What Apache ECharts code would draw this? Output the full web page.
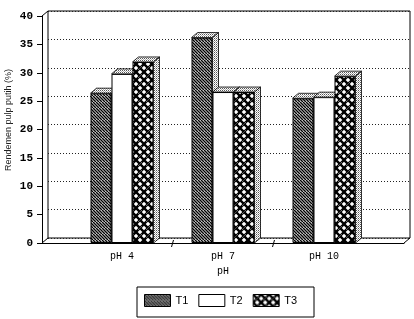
<!DOCTYPE html>
<html>
<head>
<meta charset="utf-8">
<script src="https://cdn.jsdelivr.net/npm/echarts@6/dist/echarts.min.js"></script>
<style>
	html, body { margin: 0; padding: 0; background: #fff; }
	#chart { width: 414px; height: 319px; }
</style>
</head>
<body>
<div id="chart"></div>
<script>
	// data
	var categories = ['pH 4', 'pH 7', 'pH 10'];
	var seriesNames = ['T1', 'T2', 'T3'];
	var t1 = [26.4, 36.2, 25.5];
	var t2 = [29.8, 26.6, 25.7];
	var t3 = [31.9, 26.6, 29.4];
	var yMin = 0, yMax = 40, yStep = 5;

	// 3D look: depth offset of back wall / bar tops (px)
	var DX = 6, DY = 5;
	var BAR_W = 21;

	function tile(w, h, draw) {
		var c = document.createElement('canvas');
		c.width = w; c.height = h;
		var g = c.getContext('2d');
		g.fillStyle = '#fff';
		g.fillRect(0, 0, w, h);
		draw(g, w, h);
		return { image: c, repeat: 'repeat' };
	}

	// T1: diagonal hatch
	var hatch = tile(6, 6, function (g) {
		g.strokeStyle = '#000';
		g.lineWidth = 1.5;
		for (var k = -6; k <= 6; k += 3) {
			g.beginPath(); g.moveTo(k, 0); g.lineTo(k + 6, 6); g.stroke();
		}
	});
	// T3: woven lattice
	var weave = tile(8, 8, function (g, w) {
		g.strokeStyle = '#000';
		g.lineWidth = 2.4;
		for (var k = -w; k <= w; k += w) {
			g.beginPath(); g.moveTo(k, 0); g.lineTo(k + w, w); g.stroke();
			g.beginPath(); g.moveTo(k + w, 0); g.lineTo(k, w); g.stroke();
		}
		// over/under gap at the crossing
		g.strokeStyle = '#fff';
		g.lineWidth = 0.9;
		g.beginPath(); g.moveTo(2.5, 5.5); g.lineTo(3.3, 4.7); g.stroke();
		g.beginPath(); g.moveTo(4.7, 3.3); g.lineTo(5.5, 2.5); g.stroke();
	});
	// stippled grey for tops and sides
	var stipple = tile(2, 2, function (g) {
		g.fillStyle = '#555'; g.fillRect(0, 0, 1, 1);
		g.fillStyle = '#aaa'; g.fillRect(1, 1, 1, 1);
	});
	var fills = [hatch, '#fff', weave];
	var values = [t1, t2, t3];

	var myChart = echarts.init(document.getElementById('chart'));

	function faces(s) {
		return function (params, api) {
			var ci = api.value(0), v = api.value(1);
			var base = api.coord([ci, yMin]);
			var top = api.coord([ci, v]);
			var l = base[0] - BAR_W * 1.5 + s * BAR_W, r = l + BAR_W;
			var y0 = base[1], y1 = top[1];
			var st = { fill: stipple, stroke: '#000', lineWidth: 0.8 };
			return {
				type: 'group',
				children: [
					{ type: 'polygon', shape: { points: [[l, y1], [l + DX, y1 - DY], [r + DX, y1 - DY], [r, y1]] }, style: st },
					{ type: 'polygon', shape: { points: [[r, y1], [r + DX, y1 - DY], [r + DX, y0 - DY], [r, y0]] }, style: st }
				]
			};
		};
	}

	var series = [];
	for (var s = 0; s < 3; s++) {
		series.push({
			name: seriesNames[s],
			type: 'bar',
			xAxisIndex: 2,
			yAxisIndex: 2,
			data: values[s],
			barWidth: BAR_W,
			barGap: '0%',
			z: 2 + s * 2,
			itemStyle: { color: fills[s], borderColor: '#000', borderWidth: 1 },
			emphasis: { disabled: true }
		});
		series.push({
			type: 'custom',
			xAxisIndex: 2,
			yAxisIndex: 2,
			z: 3 + s * 2,
			silent: true,
			data: values[s].map(function (v, i) { return [i, v]; }),
			renderItem: faces(s)
		});
	}
	// small marks on the floor between the groups
	series.push({
		type: 'custom',
		xAxisIndex: 2,
		yAxisIndex: 2,
		z: 1,
		silent: true,
		data: categories.slice(1).map(function (c, i) { return [i, yMin]; }),
		renderItem: function (params, api) {
			var a = api.coord([api.value(0), yMin]);
			var b = api.coord([api.value(0) + 1, yMin]);
			var x = (a[0] + b[0]) / 2;
			return { type: 'line', shape: { x1: x - 1, y1: a[1] + 4, x2: x + 1, y2: a[1] - 3 }, style: { stroke: '#000', lineWidth: 1 } };
		}
	});
	// corner edges joining the front plane to the back wall
	series.push({
		type: 'custom',
		xAxisIndex: 1,
		yAxisIndex: 1,
		z: 1,
		silent: true,
		data: [[0, yMin], [0, yMax], [1, yMin]],
		renderItem: function (params, api) {
			var p = api.coord([api.value(0), api.value(1)]);
			return { type: 'line', shape: { x1: p[0], y1: p[1], x2: p[0] + DX, y2: p[1] - DY }, style: { stroke: '#000', lineWidth: 1 } };
		}
	});

	myChart.setOption({
		animation: false,
		grid: [
			{ left: 48, top: 11, right: 4, bottom: 81, show: true, borderColor: '#000', borderWidth: 1, backgroundColor: 'transparent' },
			{ left: 42, top: 16, right: 10, bottom: 76 },
			{ left: 71.5, top: 16, right: 39.5, bottom: 76 }
		],
		xAxis: [
			{ gridIndex: 0, type: 'value', min: 0, max: 1, show: false },
			{ gridIndex: 1, type: 'value', min: 0, max: 1,
				axisLine: { show: true, lineStyle: { color: '#000', width: 1 } },
				axisTick: { show: false }, axisLabel: { show: false }, splitLine: { show: false } },
			{ gridIndex: 2, type: 'category', data: categories,
				axisLine: { show: false },
				axisTick: { show: false },
				axisLabel: { margin: 8, color: '#000', fontFamily: 'Liberation Mono', fontSize: 10 },
				name: 'pH', nameLocation: 'middle', nameGap: 19,
				nameTextStyle: { color: '#000', fontFamily: 'Liberation Mono', fontSize: 10 } }
		],
		yAxis: [
			{ gridIndex: 0, type: 'value', min: yMin, max: yMax, interval: yStep,
				axisLine: { show: false }, axisTick: { show: false }, axisLabel: { show: false },
				splitLine: { show: true, lineStyle: { color: '#222', type: [1, 2], width: 1 } } },
			{ gridIndex: 1, type: 'value', min: yMin, max: yMax, interval: yStep,
				axisLine: { show: true, lineStyle: { color: '#000', width: 1 } },
				axisTick: { show: true, length: 5, lineStyle: { color: '#000' } },
				axisLabel: { margin: 9, color: '#000', fontFamily: 'Liberation Mono', fontSize: 11, fontWeight: 'bold' },
				splitLine: { show: false } },
			{ gridIndex: 2, type: 'value', min: yMin, max: yMax, show: false }
		],
		legend: {
			data: seriesNames,
			left: 137, top: 287,
			itemWidth: 26, itemHeight: 12, itemGap: 10,
			padding: [7, 17, 10, 7],
			borderColor: '#000', borderWidth: 1,
			selectedMode: false,
			icon: 'rect',
			itemStyle: { borderColor: '#000', borderWidth: 1 },
			textStyle: { color: '#000', fontFamily: 'Liberation Sans', fontSize: 11 }
		},
		graphic: [{
			type: 'text', x: 9, y: 120, rotation: Math.PI / 2,
			style: { text: 'Rendemen pulp putih (%)', fill: '#222', font: '9px "Liberation Sans"', align: 'center', verticalAlign: 'middle' }
		}],
		series: series
	});
</script>
</body>
</html>
